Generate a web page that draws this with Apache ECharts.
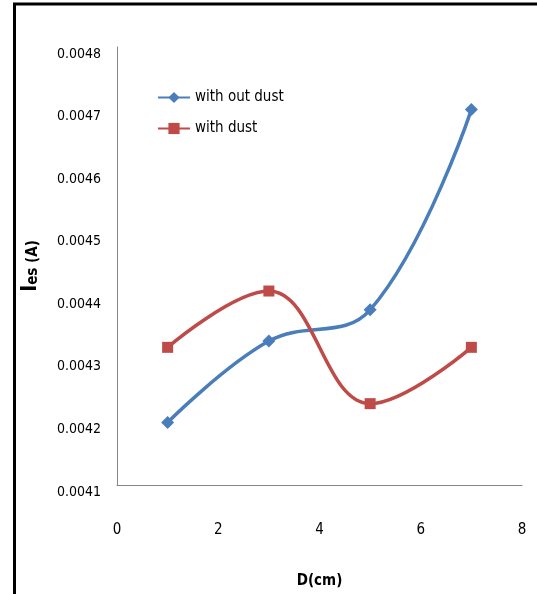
<!DOCTYPE html>
<html>
<head>
<meta charset="utf-8">
<script src="https://cdn.jsdelivr.net/npm/echarts@6/dist/echarts.min.js"></script>
<style>
  html, body { margin: 0; padding: 0; background: #fff; }
  #chart { width: 537px; height: 594px; }
</style>
</head>
<body>
<div id="chart"></div>
<script>
// datos
const distancias = [1, 3, 5, 7];
const sinPolvo = [0.0042, 0.00433, 0.00438, 0.0047];
const conPolvo = [0.00432, 0.00441, 0.00423, 0.00432];
const nombres = ["with out dust", "with dust"];

const fuente = "'Liberation Sans Narrow', 'DejaVu Sans Condensed', sans-serif";

var myChart = echarts.init(document.getElementById("chart"));

var option = {
  animation: false,
  backgroundColor: "#fff",
  grid: { left: 117, top: 47, right: 15, bottom: 106 },
  graphic: [
    {
      type: "polyline",
      shape: { points: [[14.5, 594], [14.5, 4], [537, 4]] },
      style: { stroke: "#000", lineWidth: 3, fill: null },
    },
  ],
  legend: {
    orient: "vertical",
    left: 152,
    top: 85,
    itemGap: 16,
    itemWidth: 32,
    itemHeight: 14,
    data: nombres,
    textStyle: { fontFamily: fuente, fontSize: 15, color: "#000" },
  },
  xAxis: {
    type: "value",
    min: 0,
    max: 8,
    interval: 2,
    name: "D(cm)",
    nameLocation: "middle",
    nameGap: 89,
    nameTextStyle: { fontFamily: fuente, fontSize: 15, fontWeight: "bold", color: "#000" },
    axisLine: { lineStyle: { color: "#868686", width: 1 } },
    axisTick: { show: false },
    splitLine: { show: false },
    axisLabel: { margin: 38, fontFamily: fuente, fontSize: 15, color: "#000" },
  },
  yAxis: {
    type: "value",
    min: 0.0041,
    max: 0.0048,
    interval: 0.0001,
    name: "{a|I}{b|es (A)}",
    nameLocation: "middle",
    nameGap: 76,
    nameTextStyle: {
      rich: {
        a: { fontFamily: fuente, fontSize: 21, fontWeight: "bold", color: "#000" },
        b: { fontFamily: fuente, fontSize: 15, fontWeight: "bold", color: "#000", padding: [6, 0, 0, 0] },
      },
    },
    axisLine: { show: true, lineStyle: { color: "#868686", width: 1 } },
    axisTick: { show: false },
    splitLine: { show: false },
    axisLabel: {
      margin: 16,
      fontFamily: fuente,
      fontSize: 14,
      color: "#000",
      verticalAlign: "top",
      formatter: (v) => v.toFixed(4),
    },
  },
  series: [
    {
      name: nombres[0],
      type: "line",
      smooth: 0.4,
      data: distancias.map((d, i) => [d, sinPolvo[i]]),
      symbol: "diamond",
      symbolSize: 13,
      lineStyle: { width: 3.5, color: "#4A7EBB" },
      itemStyle: { color: "#4A7EBB" },
    },
    {
      name: nombres[1],
      type: "line",
      smooth: 0.4,
      data: distancias.map((d, i) => [d, conPolvo[i]]),
      symbol: "rect",
      symbolSize: 11,
      lineStyle: { width: 3.5, color: "#BE4B48" },
      itemStyle: { color: "#BE4B48" },
    },
  ],
};

myChart.setOption(option);
</script>
</body>
</html>
